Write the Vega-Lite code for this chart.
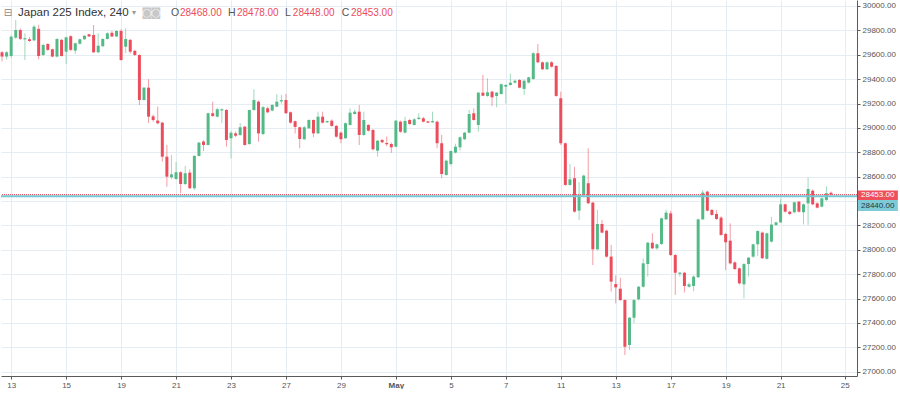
{
  "$schema": "https://vega.github.io/schema/vega-lite/v6.json",
  "width": 856,
  "height": 376,
  "padding": 0,
  "background": "#ffffff",
  "config": {"view": {"stroke": null}, "font": "Liberation Sans", "axis": {"labelOverlap": false, "labelBound": false}},
  "datasets": {
    "candles": [
      {"k":1,"o":29620,"h":29630,"l":29545,"c":29585},
      {"k":2,"o":29585,"h":29630,"l":29560,"c":29620},
      {"k":3,"o":29590,"h":29760,"l":29575,"c":29748},
      {"k":4,"o":29740,"h":29885,"l":29730,"c":29803},
      {"k":5,"o":29803,"h":29815,"l":29720,"c":29730},
      {"k":6,"o":29726,"h":29776,"l":29557,"c":29736},
      {"k":7,"o":29727,"h":29745,"l":29705,"c":29713},
      {"k":8,"o":29718,"h":29844,"l":29712,"c":29830},
      {"k":9,"o":29812,"h":29845,"l":29563,"c":29590},
      {"k":10,"o":29598,"h":29690,"l":29590,"c":29680},
      {"k":11,"o":29688,"h":29695,"l":29632,"c":29640},
      {"k":12,"o":29645,"h":29650,"l":29580,"c":29585},
      {"k":13,"o":29585,"h":29735,"l":29578,"c":29729},
      {"k":14,"o":29722,"h":29730,"l":29585,"c":29590},
      {"k":15,"o":29625,"h":29748,"l":29524,"c":29743},
      {"k":16,"o":29752,"h":29760,"l":29630,"c":29640},
      {"k":17,"o":29634,"h":29700,"l":29606,"c":29694},
      {"k":18,"o":29690,"h":29732,"l":29685,"c":29727},
      {"k":19,"o":29727,"h":29760,"l":29722,"c":29756},
      {"k":20,"o":29768,"h":29772,"l":29745,"c":29750},
      {"k":21,"o":29762,"h":29844,"l":29615,"c":29620},
      {"k":22,"o":29620,"h":29776,"l":29612,"c":29674},
      {"k":23,"o":29670,"h":29735,"l":29665,"c":29729},
      {"k":24,"o":29729,"h":29785,"l":29725,"c":29776},
      {"k":25,"o":29780,"h":29795,"l":29745,"c":29750},
      {"k":26,"o":29750,"h":29800,"l":29745,"c":29795},
      {"k":27,"o":29795,"h":29810,"l":29550,"c":29557},
      {"k":28,"o":29666,"h":29817,"l":29614,"c":29729},
      {"k":29,"o":29722,"h":29730,"l":29610,"c":29625},
      {"k":30,"o":29632,"h":29640,"l":29590,"c":29598},
      {"k":31,"o":29598,"h":29605,"l":29188,"c":29229},
      {"k":32,"o":29229,"h":29335,"l":29225,"c":29330},
      {"k":33,"o":29330,"h":29399,"l":29040,"c":29092},
      {"k":34,"o":29095,"h":29110,"l":29050,"c":29065},
      {"k":35,"o":29060,"h":29175,"l":29030,"c":29038},
      {"k":36,"o":29043,"h":29050,"l":28723,"c":28764},
      {"k":37,"o":28764,"h":28860,"l":28518,"c":28600},
      {"k":38,"o":28595,"h":28778,"l":28580,"c":28619},
      {"k":39,"o":28581,"h":28720,"l":28575,"c":28636},
      {"k":40,"o":28636,"h":28645,"l":28464,"c":28540},
      {"k":41,"o":28540,"h":28688,"l":28530,"c":28628},
      {"k":42,"o":28633,"h":28660,"l":28500,"c":28505},
      {"k":43,"o":28505,"h":28775,"l":28490,"c":28770},
      {"k":44,"o":28770,"h":28885,"l":28765,"c":28879},
      {"k":45,"o":28888,"h":28900,"l":28810,"c":28860},
      {"k":46,"o":28860,"h":29125,"l":28855,"c":29120},
      {"k":47,"o":29120,"h":29215,"l":29090,"c":29098},
      {"k":48,"o":29092,"h":29165,"l":29085,"c":29153},
      {"k":49,"o":29143,"h":29160,"l":29040,"c":29153},
      {"k":50,"o":29147,"h":29155,"l":28846,"c":28901},
      {"k":51,"o":28915,"h":28975,"l":28750,"c":28960},
      {"k":52,"o":28955,"h":28970,"l":28925,"c":28936},
      {"k":53,"o":28942,"h":29040,"l":28935,"c":29005},
      {"k":54,"o":29010,"h":29015,"l":28855,"c":28860},
      {"k":55,"o":28868,"h":29150,"l":28860,"c":29147},
      {"k":56,"o":29147,"h":29317,"l":29140,"c":29229},
      {"k":57,"o":29215,"h":29225,"l":28887,"c":28955},
      {"k":58,"o":28950,"h":29180,"l":28940,"c":29170},
      {"k":59,"o":29161,"h":29175,"l":29120,"c":29128},
      {"k":60,"o":29142,"h":29195,"l":29135,"c":29188},
      {"k":61,"o":29174,"h":29276,"l":29170,"c":29215},
      {"k":62,"o":29218,"h":29270,"l":29200,"c":29228},
      {"k":63,"o":29229,"h":29280,"l":29115,"c":29120},
      {"k":64,"o":29128,"h":29135,"l":29035,"c":29043},
      {"k":65,"o":29055,"h":29060,"l":28955,"c":29008},
      {"k":66,"o":29005,"h":29010,"l":28833,"c":28909},
      {"k":67,"o":28907,"h":29015,"l":28900,"c":29005},
      {"k":68,"o":28997,"h":29070,"l":28990,"c":29065},
      {"k":69,"o":29065,"h":29070,"l":28925,"c":28955},
      {"k":70,"o":28955,"h":29133,"l":28950,"c":29092},
      {"k":71,"o":29092,"h":29133,"l":29035,"c":29043},
      {"k":72,"o":29046,"h":29060,"l":29040,"c":29056},
      {"k":73,"o":29059,"h":29070,"l":29010,"c":29016},
      {"k":74,"o":29016,"h":29025,"l":28920,"c":28928},
      {"k":75,"o":28961,"h":28970,"l":28874,"c":28907},
      {"k":76,"o":28915,"h":29045,"l":28910,"c":29038},
      {"k":77,"o":29024,"h":29160,"l":29020,"c":29125},
      {"k":78,"o":29114,"h":29150,"l":29110,"c":29133},
      {"k":79,"o":29133,"h":29188,"l":28860,"c":28942},
      {"k":80,"o":28942,"h":29133,"l":28935,"c":29065},
      {"k":81,"o":29024,"h":29030,"l":28970,"c":28977},
      {"k":82,"o":28983,"h":28990,"l":28815,"c":28825},
      {"k":83,"o":28813,"h":28900,"l":28764,"c":28895},
      {"k":84,"o":28901,"h":28910,"l":28875,"c":28882},
      {"k":85,"o":28876,"h":28930,"l":28850,"c":28866},
      {"k":86,"o":28868,"h":28880,"l":28795,"c":28841},
      {"k":87,"o":28846,"h":29065,"l":28840,"c":29059},
      {"k":88,"o":29051,"h":29060,"l":28960,"c":28969},
      {"k":89,"o":28961,"h":29090,"l":28955,"c":29057},
      {"k":90,"o":29065,"h":29075,"l":29025,"c":29032},
      {"k":91,"o":29024,"h":29080,"l":29020,"c":29070},
      {"k":92,"o":29073,"h":29120,"l":29068,"c":29084},
      {"k":93,"o":29079,"h":29090,"l":29045,"c":29051},
      {"k":94,"o":29053,"h":29058,"l":29040,"c":29043},
      {"k":95,"o":29046,"h":29133,"l":29042,"c":29056},
      {"k":96,"o":29051,"h":29060,"l":28833,"c":28874},
      {"k":97,"o":28874,"h":28942,"l":28587,"c":28622},
      {"k":98,"o":28614,"h":28740,"l":28608,"c":28731},
      {"k":99,"o":28704,"h":28815,"l":28690,"c":28810},
      {"k":100,"o":28797,"h":28870,"l":28790,"c":28846},
      {"k":101,"o":28841,"h":28930,"l":28813,"c":28923},
      {"k":102,"o":28907,"h":28968,"l":28900,"c":28961},
      {"k":103,"o":28961,"h":29147,"l":28955,"c":29114},
      {"k":104,"o":29120,"h":29160,"l":29060,"c":29065},
      {"k":105,"o":29024,"h":29295,"l":28969,"c":29289},
      {"k":106,"o":29289,"h":29434,"l":29260,"c":29264},
      {"k":107,"o":29262,"h":29407,"l":29255,"c":29292},
      {"k":108,"o":29297,"h":29305,"l":29180,"c":29251},
      {"k":109,"o":29262,"h":29295,"l":29170,"c":29289},
      {"k":110,"o":29278,"h":29365,"l":29272,"c":29358},
      {"k":111,"o":29338,"h":29360,"l":29200,"c":29352},
      {"k":112,"o":29352,"h":29445,"l":29345,"c":29371},
      {"k":113,"o":29371,"h":29395,"l":29365,"c":29387},
      {"k":114,"o":29393,"h":29400,"l":29325,"c":29330},
      {"k":115,"o":29320,"h":29395,"l":29270,"c":29387},
      {"k":116,"o":29371,"h":29420,"l":29365,"c":29415},
      {"k":117,"o":29401,"h":29620,"l":29395,"c":29612},
      {"k":118,"o":29612,"h":29688,"l":29530,"c":29538},
      {"k":119,"o":29538,"h":29545,"l":29475,"c":29481},
      {"k":120,"o":29481,"h":29545,"l":29475,"c":29538},
      {"k":121,"o":29538,"h":29548,"l":29495,"c":29502},
      {"k":122,"o":29508,"h":29515,"l":29255,"c":29262},
      {"k":123,"o":29243,"h":29297,"l":28860,"c":28874},
      {"k":124,"o":28874,"h":28880,"l":28525,"c":28532},
      {"k":125,"o":28532,"h":28704,"l":28525,"c":28578},
      {"k":126,"o":28587,"h":28680,"l":28305,"c":28313},
      {"k":127,"o":28321,"h":28555,"l":28245,"c":28450},
      {"k":128,"o":28450,"h":28615,"l":28440,"c":28609},
      {"k":129,"o":28546,"h":28833,"l":28375,"c":28382},
      {"k":130,"o":28387,"h":28395,"l":27875,"c":28004},
      {"k":131,"o":28004,"h":28327,"l":27995,"c":28212},
      {"k":132,"o":28212,"h":28244,"l":28135,"c":28141},
      {"k":133,"o":28157,"h":28165,"l":27935,"c":27944},
      {"k":134,"o":27944,"h":28040,"l":27657,"c":27739},
      {"k":135,"o":27719,"h":27790,"l":27561,"c":27692},
      {"k":136,"o":27681,"h":27770,"l":27580,"c":27588},
      {"k":137,"o":27588,"h":27595,"l":27137,"c":27205},
      {"k":138,"o":27219,"h":27450,"l":27178,"c":27443},
      {"k":139,"o":27443,"h":27595,"l":27400,"c":27588},
      {"k":140,"o":27594,"h":27705,"l":27585,"c":27697},
      {"k":141,"o":27697,"h":27930,"l":27690,"c":27889},
      {"k":142,"o":27883,"h":28065,"l":27780,"c":28058},
      {"k":143,"o":28058,"h":28135,"l":28005,"c":28012},
      {"k":144,"o":28012,"h":28050,"l":28000,"c":28045},
      {"k":145,"o":28048,"h":28265,"l":28040,"c":28258},
      {"k":146,"o":28250,"h":28330,"l":28245,"c":28305},
      {"k":147,"o":28299,"h":28320,"l":27950,"c":27957},
      {"k":148,"o":27957,"h":27965,"l":27629,"c":27812},
      {"k":149,"o":27803,"h":27815,"l":27780,"c":27813},
      {"k":150,"o":27812,"h":27820,"l":27650,"c":27703},
      {"k":151,"o":27697,"h":27730,"l":27690,"c":27717},
      {"k":152,"o":27703,"h":27790,"l":27660,"c":27780},
      {"k":153,"o":27775,"h":28255,"l":27770,"c":28250},
      {"k":154,"o":28250,"h":28490,"l":28245,"c":28469},
      {"k":155,"o":28477,"h":28485,"l":28315,"c":28321},
      {"k":156,"o":28327,"h":28335,"l":28280,"c":28286},
      {"k":157,"o":28294,"h":28325,"l":28245,"c":28253},
      {"k":158,"o":28264,"h":28275,"l":28115,"c":28122},
      {"k":159,"o":28130,"h":28140,"l":27834,"c":28062},
      {"k":160,"o":28075,"h":28217,"l":27880,"c":27889},
      {"k":161,"o":27897,"h":27905,"l":27835,"c":27842},
      {"k":162,"o":27848,"h":27855,"l":27715,"c":27725},
      {"k":163,"o":27717,"h":27890,"l":27602,"c":27883},
      {"k":164,"o":27883,"h":27940,"l":27780,"c":27936},
      {"k":165,"o":27944,"h":28050,"l":27935,"c":28045},
      {"k":166,"o":28045,"h":28160,"l":27950,"c":28154},
      {"k":167,"o":28141,"h":28150,"l":27925,"c":27931},
      {"k":168,"o":27926,"h":28140,"l":27920,"c":28135},
      {"k":169,"o":28067,"h":28270,"l":28060,"c":28207},
      {"k":170,"o":28204,"h":28230,"l":28195,"c":28225},
      {"k":171,"o":28225,"h":28420,"l":28220,"c":28373},
      {"k":172,"o":28373,"h":28380,"l":28305,"c":28313},
      {"k":173,"o":28313,"h":28320,"l":28285,"c":28294},
      {"k":174,"o":28308,"h":28395,"l":28300,"c":28390},
      {"k":175,"o":28395,"h":28400,"l":28305,"c":28313},
      {"k":176,"o":28308,"h":28380,"l":28209,"c":28373},
      {"k":177,"o":28381,"h":28592,"l":28204,"c":28499},
      {"k":178,"o":28485,"h":28495,"l":28365,"c":28373},
      {"k":179,"o":28381,"h":28390,"l":28340,"c":28346},
      {"k":180,"o":28354,"h":28430,"l":28348,"c":28422},
      {"k":181,"o":28409,"h":28520,"l":28400,"c":28464},
      {"k":182,"o":28468,"h":28478,"l":28448,"c":28453}
    ]
  },
  "layer": [
    {
      "data": {"name": "candles"},
      "mark": {"type": "rule", "strokeWidth": 1, "opacity": 0.55},
      "encoding": {
        "x": {
          "field": "k", "type": "quantitative", "title": null,
          "scale": {"domain": [0.78, 187.68], "nice": false, "zero": false},
          "axis": {
            "orient": "bottom",
            "values": [3,15,27,39,51,63,75,87,99,111,123,135,147,159,171,185],
            "labelExpr": "['13','15','19','21','23','27','29','May','5','7','11','13','17','19','21','25'][indexof([3,15,27,39,51,63,75,87,99,111,123,135,147,159,171,185], datum.value)]",
            "grid": true, "gridColor": "#e6edf2", "gridWidth": 1,
            "domainColor": "#5a5a5a", "tickColor": "#5a5a5a", "tickSize": 3,
            "labelFontSize": 8, "labelColor": "#555555", "labelFont": "Liberation Sans",
            "labelPadding": 2, "labelFlush": false, "labelOverlap": false,
            "labelFontWeight": {"condition": {"test": "datum.value == 87", "value": "bold"}, "value": "normal"}
          }
        },
        "y": {
          "field": "l", "type": "quantitative", "title": null,
          "scale": {"domain": [26965, 30049], "nice": false, "zero": false},
          "axis": {
            "orient": "right",
            "tickCount": 16,
            "format": ".2f",
            "labelExpr": "datum.value == 28400 ? '' : datum.label",
            "grid": true, "gridColor": "#e6edf2", "gridWidth": 1,
            "domainColor": "#5a5a5a", "tickColor": "#5a5a5a", "tickSize": 3,
            "labelFontSize": 8, "labelColor": "#555555", "labelFont": "Liberation Sans",
            "labelPadding": 2, "labelOverlap": false, "labelFlush": false, "labelBound": false,
            "labelSeparation": 0
          }
        },
        "y2": {"field": "h"},
        "color": {"condition": {"test": "datum.c >= datum.o", "value": "#53b987"}, "value": "#eb4d5c"}
      }
    },
    {
      "data": {"name": "candles"},
      "mark": {"type": "rule", "strokeWidth": 3},
      "encoding": {
        "x": {"field": "k", "type": "quantitative", "title": null},
        "y": {"field": "o", "type": "quantitative", "title": null},
        "y2": {"field": "c"},
        "color": {"condition": {"test": "datum.c >= datum.o", "value": "#53b987"}, "value": "#eb4d5c"}
      }
    },
    {
      "data": {"values": [{}]},
      "mark": {"type": "rule", "color": "#72c8d4", "strokeWidth": 2},
      "encoding": {"y": {"datum": 28440, "type": "quantitative", "title": null}}
    },
    {
      "data": {"values": [{}]},
      "mark": {"type": "rule", "color": "#eb4d5c", "strokeWidth": 1, "strokeDash": [1, 1]},
      "encoding": {"y": {"datum": 28453, "type": "quantitative", "title": null}}
    },
    {
      "data": {"values": [{}]},
      "mark": {"type": "rect", "color": "#ee4f5b", "clip": false},
      "encoding": {
        "x": {"datum": 187.9, "type": "quantitative", "title": null},
        "x2": {"datum": 196.6},
        "y": {"datum": 28486, "type": "quantitative", "title": null},
        "y2": {"datum": 28409}
      }
    },
    {
      "data": {"values": [{}]},
      "mark": {"type": "rect", "color": "#7dcbd6", "clip": false},
      "encoding": {
        "x": {"datum": 187.9, "type": "quantitative", "title": null},
        "x2": {"datum": 196.6},
        "y": {"datum": 28409, "type": "quantitative", "title": null},
        "y2": {"datum": 28318}
      }
    },
    {
      "data": {"values": [{}]},
      "mark": {"type": "text", "color": "#ffffff", "fontSize": 8, "align": "center", "baseline": "middle", "font": "Liberation Sans"},
      "encoding": {
        "x": {"datum": 192.2, "type": "quantitative", "title": null},
        "y": {"datum": 28447, "type": "quantitative", "title": null},
        "text": {"value": "28453.00"}
      }
    },
    {
      "data": {"values": [{}]},
      "mark": {"type": "text", "color": "#1f3b45", "fontSize": 8, "align": "center", "baseline": "middle", "font": "Liberation Sans"},
      "encoding": {
        "x": {"datum": 192.2, "type": "quantitative", "title": null},
        "y": {"datum": 28363, "type": "quantitative", "title": null},
        "text": {"value": "28440.00"}
      }
    },
    {
      "data": {"values": [{}]},
      "mark": {"type": "text", "color": "#888888", "fontSize": 10, "align": "center", "baseline": "middle", "font": "DejaVu Sans"},
      "encoding": {
        "x": {"datum": 2.3, "type": "quantitative", "title": null},
        "y": {"datum": 29942, "type": "quantitative", "title": null},
        "text": {"value": "⊟"}
      }
    },
    {
      "data": {"values": [{}]},
      "mark": {"type": "text", "color": "#333333", "fontSize": 11.5, "align": "left", "baseline": "middle", "font": "Liberation Sans"},
      "encoding": {
        "x": {"datum": 4.5, "type": "quantitative", "title": null},
        "y": {"datum": 29942, "type": "quantitative", "title": null},
        "text": {"value": "Japan 225 Index, 240"}
      }
    },
    {
      "data": {"values": [{}]},
      "mark": {"type": "text", "color": "#999999", "fontSize": 8, "align": "center", "baseline": "middle", "font": "DejaVu Sans"},
      "encoding": {
        "x": {"datum": 29.8, "type": "quantitative", "title": null},
        "y": {"datum": 29942, "type": "quantitative", "title": null},
        "text": {"value": "▾"}
      }
    },
    {
      "data": {"values": [{}]},
      "mark": {"type": "text", "color": "#c8c8c8", "fontSize": 11, "align": "center", "baseline": "middle", "font": "DejaVu Sans"},
      "encoding": {
        "x": {"datum": 32.6, "type": "quantitative", "title": null},
        "y": {"datum": 29942, "type": "quantitative", "title": null},
        "text": {"value": "◙"}
      }
    },
    {
      "data": {"values": [{}]},
      "mark": {"type": "text", "color": "#c8c8c8", "fontSize": 11, "align": "center", "baseline": "middle", "font": "DejaVu Sans"},
      "encoding": {
        "x": {"datum": 34.6, "type": "quantitative", "title": null},
        "y": {"datum": 29942, "type": "quantitative", "title": null},
        "text": {"value": "◙"}
      }
    },
    {
      "data": {"values": [{}]},
      "mark": {"type": "text", "color": "#555555", "fontSize": 10.5, "align": "left", "baseline": "middle", "font": "Liberation Sans"},
      "encoding": {
        "x": {"datum": 37.9, "type": "quantitative", "title": null},
        "y": {"datum": 29942, "type": "quantitative", "title": null},
        "text": {"value": "O"}
      }
    },
    {
      "data": {"values": [{}]},
      "mark": {"type": "text", "color": "#eb4d5c", "fontSize": 10, "align": "left", "baseline": "middle", "font": "Liberation Sans"},
      "encoding": {
        "x": {"datum": 39.86, "type": "quantitative", "title": null},
        "y": {"datum": 29942, "type": "quantitative", "title": null},
        "text": {"value": "28468.00"}
      }
    },
    {
      "data": {"values": [{}]},
      "mark": {"type": "text", "color": "#555555", "fontSize": 10.5, "align": "left", "baseline": "middle", "font": "Liberation Sans"},
      "encoding": {
        "x": {"datum": 50.34, "type": "quantitative", "title": null},
        "y": {"datum": 29942, "type": "quantitative", "title": null},
        "text": {"value": "H"}
      }
    },
    {
      "data": {"values": [{}]},
      "mark": {"type": "text", "color": "#eb4d5c", "fontSize": 10, "align": "left", "baseline": "middle", "font": "Liberation Sans"},
      "encoding": {
        "x": {"datum": 52.3, "type": "quantitative", "title": null},
        "y": {"datum": 29942, "type": "quantitative", "title": null},
        "text": {"value": "28478.00"}
      }
    },
    {
      "data": {"values": [{}]},
      "mark": {"type": "text", "color": "#555555", "fontSize": 10.5, "align": "left", "baseline": "middle", "font": "Liberation Sans"},
      "encoding": {
        "x": {"datum": 62.8, "type": "quantitative", "title": null},
        "y": {"datum": 29942, "type": "quantitative", "title": null},
        "text": {"value": "L"}
      }
    },
    {
      "data": {"values": [{}]},
      "mark": {"type": "text", "color": "#eb4d5c", "fontSize": 10, "align": "left", "baseline": "middle", "font": "Liberation Sans"},
      "encoding": {
        "x": {"datum": 64.5, "type": "quantitative", "title": null},
        "y": {"datum": 29942, "type": "quantitative", "title": null},
        "text": {"value": "28448.00"}
      }
    },
    {
      "data": {"values": [{}]},
      "mark": {"type": "text", "color": "#555555", "fontSize": 10.5, "align": "left", "baseline": "middle", "font": "Liberation Sans"},
      "encoding": {
        "x": {"datum": 75.2, "type": "quantitative", "title": null},
        "y": {"datum": 29942, "type": "quantitative", "title": null},
        "text": {"value": "C"}
      }
    },
    {
      "data": {"values": [{}]},
      "mark": {"type": "text", "color": "#eb4d5c", "fontSize": 10, "align": "left", "baseline": "middle", "font": "Liberation Sans"},
      "encoding": {
        "x": {"datum": 77.2, "type": "quantitative", "title": null},
        "y": {"datum": 29942, "type": "quantitative", "title": null},
        "text": {"value": "28453.00"}
      }
    }
  ]
}
